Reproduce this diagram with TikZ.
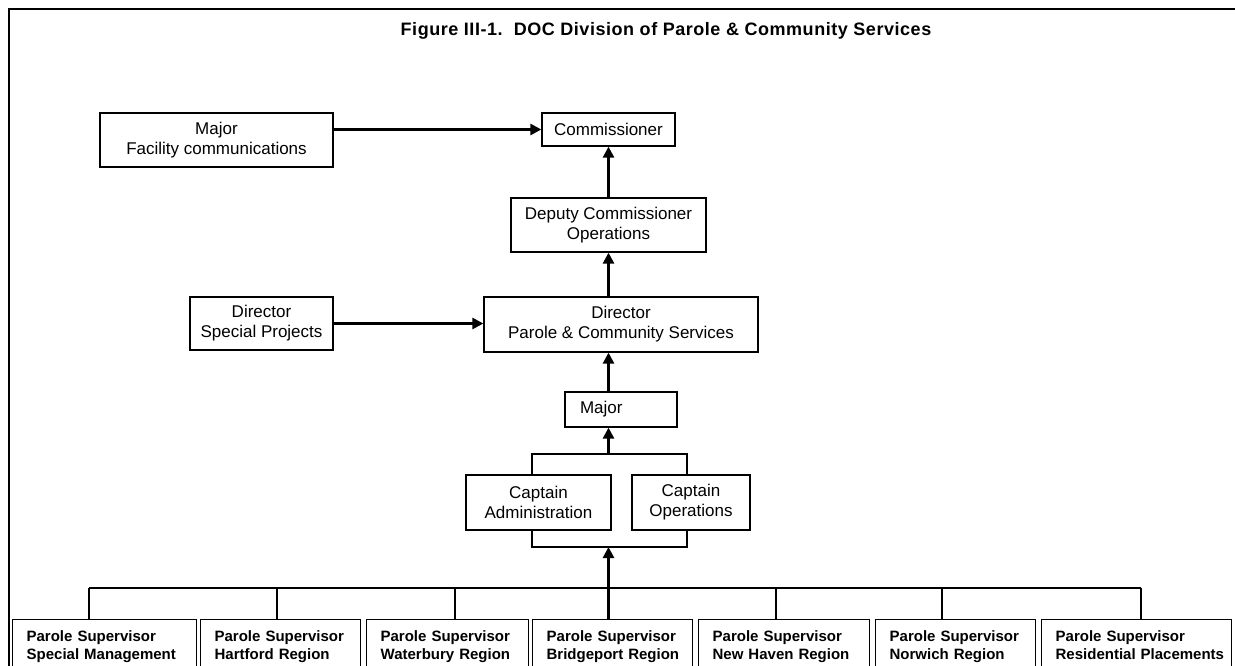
\documentclass[tikz,border=0pt]{standalone}
\usepackage{fontspec}
\setmainfont{Liberation Sans}
\newfontfamily\titlefont[LetterSpace=3]{Liberation Sans}
\usetikzlibrary{arrows.meta,calc}
\tikzstyle{box}=[draw, line width=1.3pt, font=\fontsize{17}{20}\selectfont, align=center, inner sep=0pt]
\tikzstyle{supbox}=[draw, line width=1.3pt, anchor=north west, font=\fontsize{15}{18}\selectfont\bfseries, align=left, inner xsep=14pt, inner ysep=11pt]
\tikzstyle{up>}=[line width=2.6pt, -{Triangle[length=11pt,width=11pt]}]
\tikzstyle{link}=[line width=1.5pt]
\newcommand{\busY}{588}
\newcommand{\supY}{619}

\begin{document}
\begin{tikzpicture}[x=1pt,y=-1pt]
\useasboundingbox (0,0) rectangle (1235,666);
\clip (0,0) rectangle (1235,666);
\draw[line width=2pt] (9,670) -- (9,9) -- (1240,9);
\node (title) at (666,31) {\titlefont\fontsize{18}{20}\selectfont\bfseries Figure III-1.\ \ DOC Division of Parole \& Community Services};
% upper chain
\node[box, minimum width=233pt, minimum height=54pt] (majfc) at (216.5,140) {Major\\Facility communications};
\node[box, minimum width=133pt, minimum height=33pt] (comm) at (608.5,129.5) {Commissioner};
\node[box, minimum width=195pt, minimum height=54pt] (dep) at (608.5,225) {Deputy Commissioner\\Operations};
\node[box, minimum width=143pt, minimum height=53pt] (dirsp) at (261.5,323.5) {Director\\Special Projects};
\node[box, minimum width=274pt, minimum height=55pt] (dirpcs) at (621,324.5) {Director\\Parole \& Community Services};
\node[box, minimum height=35pt, text width=82pt, align=left, inner xsep=15pt] (major) at (621,409.5) {Major};
\node[box, minimum width=145pt, minimum height=55pt] (capadm) at (538.5,502.5) {Captain\\Administration};
\node[box, minimum width=118pt, minimum height=55pt] (capops) at (691,502.5) {Captain\\Operations};
% supervisors
\foreach \n/\l/\r/\d/\t in {1/12/196/89/Special Management, 2/200/360/277/Hartford Region,
  3/366/528/455/Waterbury Region, 4/532/692/608.5/Bridgeport Region, 5/698/869/776/New Haven Region,
  6/875/1035/942/Norwich Region, 7/1041/1231/1141/Residential Placements} {
  \pgfmathsetmacro{\w}{\r-\l-28}
  \node[supbox, text width=\w pt] (sup\n) at (\l,\supY) {Parole Supervisor\\\mbox{\t}};
  \coordinate (d\n) at (\d,\busY);
  \draw[link] (d\n) -- (d\n |- sup\n.north);
}
\draw[link] (d1) -- (d7);
% arrows
\coordinate (spine) at (608.5,0);
\draw[up>] (majfc.east |- comm.west) -- (comm.west);
\draw[up>] (dirsp.east) -- (dirsp.east -| dirpcs.west);
\draw[up>] (spine |- dep.north) -- (spine |- comm.south);
\draw[up>] (spine |- dirpcs.north) -- (spine |- dep.south);
\draw[up>] (spine |- major.north) -- (spine |- dirpcs.south);
\coordinate (ua) at (532,454);
\coordinate (uo) at (687,454);
\draw[link] (capadm.north -| ua) -- (ua) -- (uo) -- (capops.north -| uo);
\draw[up>] (spine |- ua) -- (spine |- major.south);
\coordinate (la) at (532,547);
\coordinate (lo) at (687,547);
\draw[link] (capadm.south -| la) -- (la) -- (lo) -- (capops.south -| lo);
\draw[up>] (sup4.north -| spine) -- (spine |- la);
\end{tikzpicture}
\end{document}
